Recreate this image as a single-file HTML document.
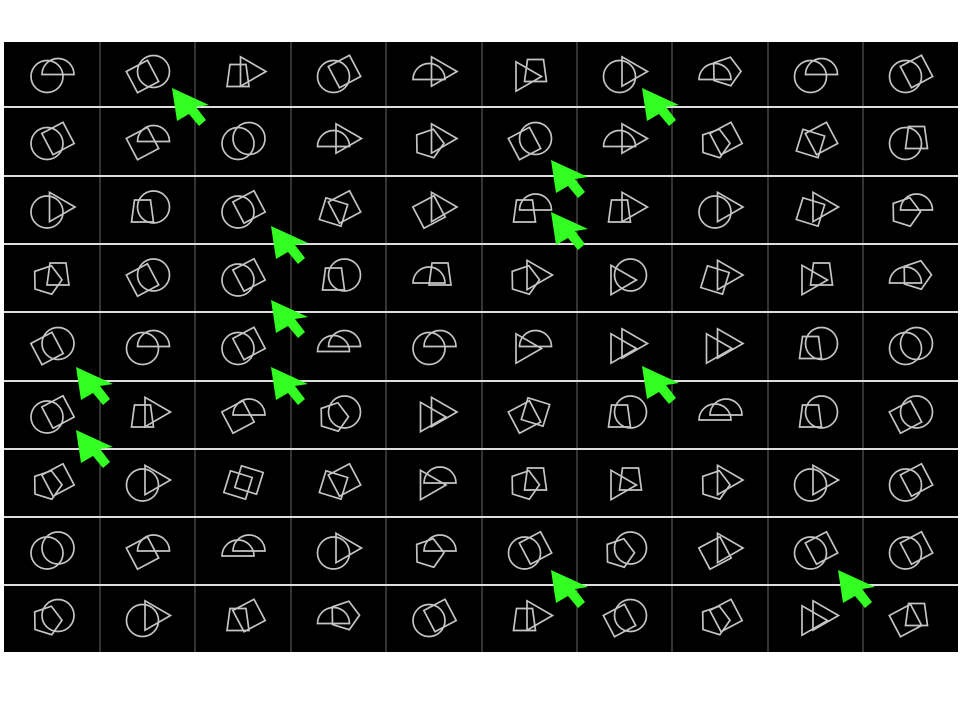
<!DOCTYPE html>
<html><head><meta charset="utf-8"><style>
html,body{margin:0;padding:0;background:#fff;width:960px;height:720px;overflow:hidden}
svg{display:block}
</style></head><body>
<svg id="chart" width="960" height="720" xmlns="http://www.w3.org/2000/svg">
<rect x="4" y="42" width="954" height="610" fill="#000"/>
<g id="lines"></g><g id="shapes"></g><g id="arrows"></g>
</svg>
<script>
const colEdges=[4,100,195,291,386,482,577,672,768,863,958];
const rowEdges=[42,107,176,244,312,381,449,517,585,652];
const cells=[
["CH","DC","ZT","CD","HT","TZ","CT","HP","CH","CD"],
["CD","DH","CC","HT","PT","DC","HT","PD","SD","CZ"],
["CT","ZC","CD","SD","DT","ZH","ZT","CT","ST","PH"],
["PZ","DC","CD","ZC","HZ","PT","TC","ST","TZ","HP"],
["DC","CH","CD","HH","CH","TH","TT","TT","ZC","CC"],
["CD","ZT","DH","PC","TT","DS","ZC","HH","ZC","DC"],
["PD","CT","SS","SD","TH","PZ","TZ","PT","CT","CD"],
["CC","DH","HH","CT","PH","CD","PC","DT","CD","CD"],
["PC","CT","ZD","HP","CD","ZT","DC","PD","TT","DZ"]];
const arrowTips=[[172,88],[642,88],[551,160],[551,212],[271,226],[271,300],[76,367],[271,367],[642,366],[76,430],[551,570],[838,570]];
const NS="http://www.w3.org/2000/svg";
const L=document.getElementById('lines'),S=document.getElementById('shapes'),A=document.getElementById('arrows');
function mk(tag,at,parent){const e=document.createElementNS(NS,tag);for(const k in at)e.setAttribute(k,at[k]);parent.appendChild(e);return e;}
colEdges.slice(1,-1).forEach(x=>{const e=mk('line',{x1:x,x2:x,y1:42,y2:652,stroke:'#555','stroke-width':1.2},L);

});
rowEdges.slice(1,-1).forEach(y=>{const e=mk('line',{x1:4,x2:958,y1:y,y2:y,stroke:'#ddd','stroke-width':2},L);

});
function poly(cx,cy,r,n,rot){let p=[];for(let i=0;i<n;i++){const a=rot+i*2*Math.PI/n;p.push((cx+r*Math.cos(a)).toFixed(1)+','+(cy+r*Math.sin(a)).toFixed(1));}return p.join(' ');}
function shape(code,cx,cy,g){const st={fill:'none',stroke:'#c4c4c4','stroke-width':1.7};let e;
if(code==='C')e=mk('circle',Object.assign({cx,cy,r:16},st),g);
else if(code==='D')e=mk('polygon',Object.assign({points:poly(cx,cy,17,4,0.3)},st),g);
else if(code==='S')e=mk('polygon',Object.assign({points:poly(cx,cy,16,4,Math.PI/4+0.3)},st),g);
else if(code==='P')e=mk('polygon',Object.assign({points:poly(cx,cy,15,5,-Math.PI/2+0.3)},st),g);
else if(code==='T')e=mk('polygon',Object.assign({points:poly(cx,cy,17,3,0)},st),g);
else if(code==='Z')e=mk('polygon',Object.assign({points:`${cx-8},${cy-12} ${cx+8},${cy-12} ${cx+11},${cy+10} ${cx-11},${cy+10}`},st),g);
else e=mk('path',Object.assign({d:`M${cx-16},${cy+3} A16,16 0 0 1 ${cx+16},${cy+3} Z`},st),g);

}
cells.forEach((row,ri)=>row.forEach((c,ci)=>{const cx=(colEdges[ci]+colEdges[ci+1])/2,cy=(rowEdges[ri]+rowEdges[ri+1])/2;
const g=mk('g',{},S);


shape(c[0],cx-5,cy+2,g);shape(c[1],cx+6,cy-3,g);}));
arrowTips.forEach(([x,y])=>{const e=mk('polygon',{points:'0,0 37,17 24,19 34,32 27,38 17,26 5,33',transform:`translate(${x},${y})`,fill:'#33ff22'},A);

});
</script>
</body></html>
